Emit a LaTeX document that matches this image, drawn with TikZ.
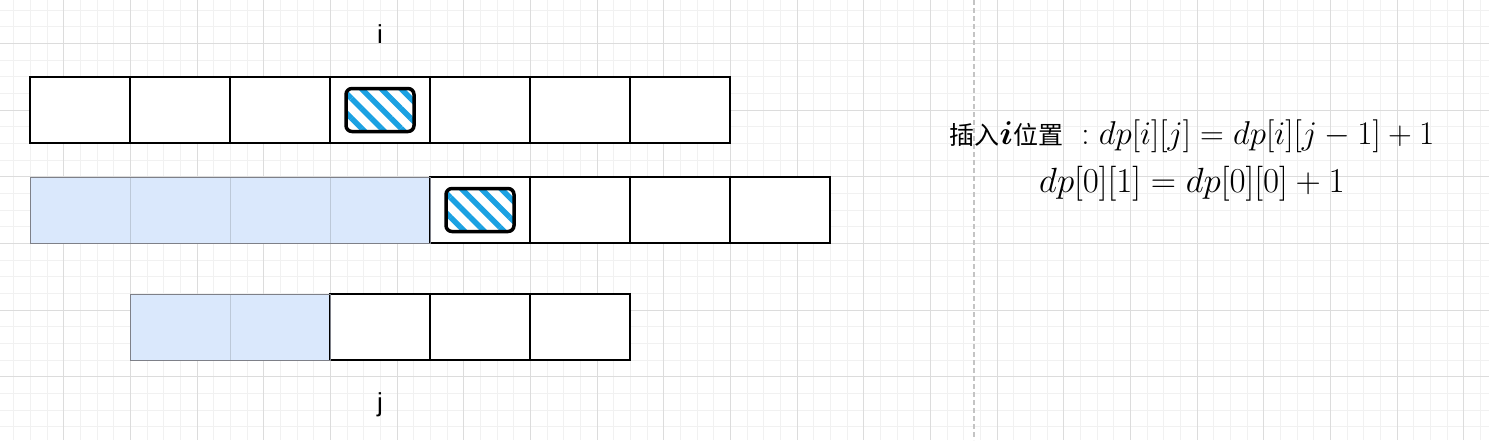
\RequirePackage{fix-cm}
\documentclass[tikz,border=0pt]{standalone}
\usepackage{amsmath}
\usepackage{xcolor}
\usepackage{fontspec}
\newfontfamily\labelfont{Liberation Sans}
\newfontfamily\cjk{Noto Sans CJK SC}
\usetikzlibrary{positioning,patterns.meta}

\definecolor{cellblue}{HTML}{DAE8FC}
\definecolor{blueedge}{HTML}{BCC8D8}
\definecolor{bluerim}{HTML}{7E8088}
\definecolor{hatchblue}{HTML}{1BA1E2}
\definecolor{gridminor}{HTML}{F1F1F1}
\definecolor{gridmajor}{HTML}{DCDCDC}
\definecolor{dividergray}{HTML}{C4C4C4}

\newcommand{\hanzi}[1]{{\cjk\fontsize{25}{48}\selectfont #1}}

\begin{document}
\begin{tikzpicture}[
				x=1pt, y=-1pt,
				node distance=0pt,
				cell/.style={draw=black, line width=1.2pt, fill=white, minimum width=100pt, minimum height=66pt, inner sep=0pt, outer sep=0pt},
				bluecell/.style={cell, draw=blueedge, line width=0.8pt, fill=cellblue},
				hatchbox/.style={draw=black, line width=3.5pt, rounded corners=6pt, minimum width=68pt, minimum height=43pt, inner sep=0pt,
					pattern={Lines[angle=-45, distance=14pt, line width=5.5pt]}, pattern color=hatchblue},
				idxlabel/.style={font=\labelfont\fontsize{26}{30}\selectfont, inner sep=0pt},
				formula/.style={align=center, font=\fontsize{35}{48}\selectfont},
				minorline/.style={draw=gridminor, line width=1pt},
				majorline/.style={draw=gridmajor, line width=1pt},
				divider/.style={draw=dividergray, line width=1.5pt, dash pattern=on 5pt off 3pt},
				rim/.style={draw=bluerim, line width=1pt},
			]
				\useasboundingbox (0,0) rectangle (1489,440);

				% background grid
				\foreach \k in {0,...,89} \draw[minorline] ({round(13.33+16.667*\k)+0.5},0) -- ++(0,440);
				\foreach \k in {0,...,26} \draw[minorline] (0,{round(9.67+16.667*\k)+0.5}) -- ++(1489,0);
				\foreach \k in {0,...,22} \draw[majorline] ({round(63.33+66.667*\k)+0.5},0) -- ++(0,440);
				\foreach \k in {0,...,6} \draw[majorline] (0,{round(43+66.667*\k)+0.5}) -- ++(1489,0);

				\coordinate (top) at (974,0);
				\coordinate (bottom) at (974,440);
				\draw[divider] (top) -- (bottom);

				% first row
				\node[cell] (a1) at (80,110) {};
				\node[cell, right=of a1] (a2) {};
				\node[cell, right=of a2] (a3) {};
				\node[cell, right=of a3] (a4) {};
				\node[cell, right=of a4] (a5) {};
				\node[cell, right=of a5] (a6) {};
				\node[cell, right=of a6] (a7) {};

				% second row
				\node[bluecell, below=34pt of a1] (b1) {};
				\node[bluecell, right=of b1] (b2) {};
				\node[bluecell, right=of b2] (b3) {};
				\node[bluecell, right=of b3] (b4) {};
				\node[cell, right=of b4] (b5) {};
				\node[cell, right=of b5] (b6) {};
				\node[cell, right=of b6] (b7) {};
				\node[cell, right=of b7] (b8) {};
				\draw[rim] (b1.north west) rectangle (b4.south east);

				% third row
				\node[bluecell, below=51pt of b2] (c1) {};
				\node[bluecell, right=of c1] (c2) {};
				\node[cell, right=of c2] (c3) {};
				\node[cell, right=of c3] (c4) {};
				\node[cell, right=of c4] (c5) {};
				\draw[rim] (c1.north west) rectangle (c2.south east);

				\node[hatchbox] (pick1) at (a4) {};
				\node[hatchbox] (pick2) at (b5) {};

				\node[idxlabel, above=33pt of a4] (ilabel) {i};
				\node[idxlabel, below=32pt of c3] (jlabel) {j};

				\node[formula] (rule) at (1192,160) {{\fontsize{33}{48}\selectfont\hanzi{插入}$\boldsymbol{i}$\hanzi{位置}$\;{}:dp[i][j]=dp[i][j-1]+1$}\\$dp[0][1]=dp[0][0]+1$};
			\end{tikzpicture}
\end{document}
